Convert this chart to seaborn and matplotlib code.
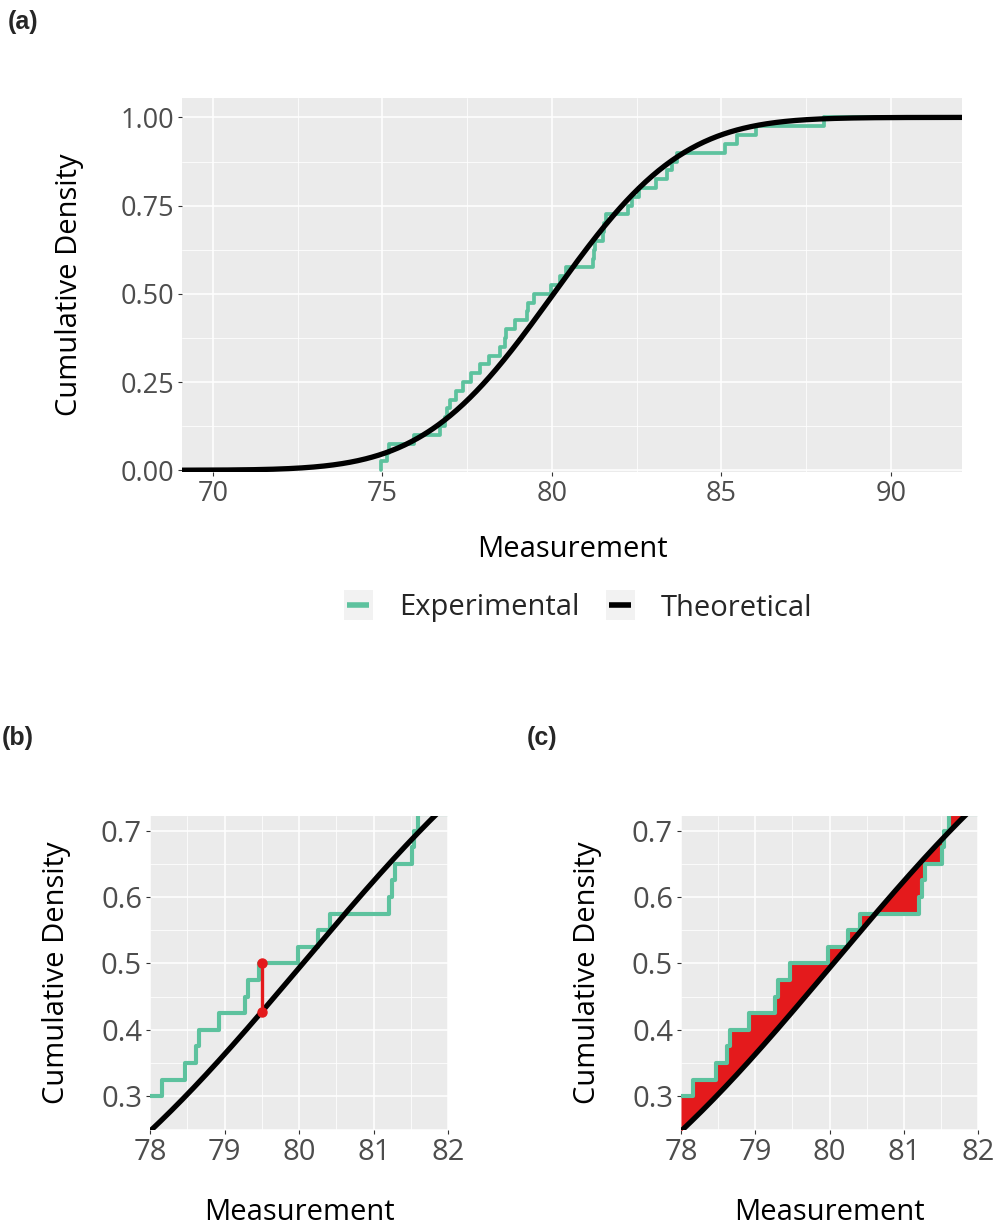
import math
import numpy as np
import matplotlib
matplotlib.use("Agg")
import matplotlib.pyplot as plt
from matplotlib.lines import Line2D
from matplotlib.patches import Rectangle
from matplotlib.legend_handler import HandlerLine2D
import seaborn as sns

# ---------------- data ----------------
measurements = [
    74.96, 75.15, 75.20, 75.92, 76.71, 76.85, 76.92, 77.00, 77.18, 77.37,
    77.61, 77.87, 78.16, 78.47, 78.62, 78.66, 78.92, 79.27, 79.31, 79.46,
    79.98, 80.25, 80.41, 81.20, 81.24, 81.28, 81.51, 81.54, 81.60, 82.26,
    82.36, 82.56, 83.08, 83.39, 83.54, 83.69, 85.11, 85.46, 86.03, 88.04,
]
theo_mean = 80.05
theo_sd = 3.0
ks_x = 79.5                       # location of the largest gap shown in (b)
series_labels = ["Experimental", "Theoretical"]
xticks_a = [70, 75, 80, 85, 90]
yticks_a = [0.0, 0.25, 0.5, 0.75, 1.0]
yticklabels_a = ["0.00", "0.25", "0.50", "0.75", "1.00"]
xticks_zoom = [78, 79, 80, 81, 82]
yticks_zoom = [0.3, 0.4, 0.5, 0.6, 0.7]
panel_tags = ["(a)", "(b)", "(c)"]

# ---------------- style ----------------
GREEN = "#5DC29E"
RED = "#E41A1C"
sns.set_theme(style="darkgrid", rc={
    "axes.facecolor": "#EBEBEB",
    "grid.color": "white",
    "axes.edgecolor": "none",
    "xtick.color": "#333333",
    "ytick.color": "#333333",
    "xtick.labelcolor": "#4D4D4D",
    "ytick.labelcolor": "#4D4D4D",
    "axes.labelcolor": "black",
    "xtick.bottom": True,
    "ytick.left": True,
})
plt.rcParams["font.family"] = ["Open Sans", "DejaVu Sans"]

DPI = 100
W, H = 995, 1228
fig = plt.figure(figsize=(W / DPI, H / DPI), dpi=DPI)


def add_ax(left, top, right, bottom):
    return fig.add_axes([left / W, 1 - bottom / H, (right - left) / W, (bottom - top) / H])


def norm_cdf(x, mu, sd):
    erf = np.vectorize(math.erf)
    return 0.5 * (1 + erf((np.asarray(x) - mu) / (sd * math.sqrt(2))))


data = np.sort(np.asarray(measurements))
n = len(data)


def ecdf_at(x):
    return np.searchsorted(data, x, side="right") / n


def style_axes(ax, xlim, ylim, xticks, yticks, yticklabels, xminor, yminor, tick_fs):
    ax.set_xlim(*xlim)
    ax.set_ylim(*ylim)
    ax.set_xticks(xticks)
    ax.set_yticks(yticks)
    ax.set_yticklabels(yticklabels)
    ax.set_xticks(xminor, minor=True)
    ax.set_yticks(yminor, minor=True)
    ax.grid(which="major", color="white", linewidth=1.1)
    ax.grid(which="minor", color="white", linewidth=0.55)
    ax.tick_params(which="major", length=3.2, width=0.8, pad=2.5, labelsize=tick_fs)
    ax.tick_params(which="minor", length=0)
    for s in ax.spines.values():
        s.set_visible(False)


class KeyHandler(HandlerLine2D):
    def create_artists(self, legend, orig_handle, xdescent, ydescent, width, height, fontsize, trans):
        rect = Rectangle((-xdescent, -ydescent - 0.2 * height), width, height * 1.4,
                         facecolor="#F2F2F2", edgecolor="none", transform=trans)
        yc = -ydescent + height / 2
        line = Line2D([-xdescent + width * 0.12, -xdescent + width * 0.88], [yc, yc],
                      color=orig_handle.get_color(), linewidth=orig_handle.get_linewidth(),
                      solid_capstyle="butt", transform=trans)
        return [rect, line]


TITLE_FS = 21
GREEN_LW = 2.7
BLACK_LW = 3.8

# ---------------- panel (a) ----------------
ax_a = add_ax(182, 98, 962, 472)
xa = np.linspace(69.09, 92.1, 600)
sns.ecdfplot(x=data, ax=ax_a, color=GREEN, linewidth=GREEN_LW)
ax_a.plot([data[-1], 92.1], [1, 1], color=GREEN, linewidth=GREEN_LW)
sns.lineplot(x=xa, y=norm_cdf(xa, theo_mean, theo_sd), ax=ax_a, color="black",
             linewidth=BLACK_LW)
style_axes(ax_a, (69.09, 92.1), (-0.005, 1.055), xticks_a, yticks_a, yticklabels_a,
           [72.5, 77.5, 82.5, 87.5], [0.125, 0.375, 0.625, 0.875], 19.5)
ax_a.set_xlabel("Measurement", fontsize=TITLE_FS)
ax_a.set_ylabel("Cumulative Density", fontsize=TITLE_FS)
ax_a.xaxis.set_label_coords(0.5, (472 - 550) / 374)
ax_a.xaxis.label.set_va("center")
ax_a.yaxis.set_label_coords((70 - 182) / 780, 0.5)
ax_a.yaxis.label.set_va("center")

handles = [Line2D([], [], color=GREEN, linewidth=4.0), Line2D([], [], color="black", linewidth=4.0)]
ax_a.legend(handles, series_labels, loc="center", bbox_to_anchor=(578 / W, 1 - 608 / H),
            bbox_transform=fig.transFigure, ncol=2, frameon=False, fontsize=TITLE_FS,
            handlelength=1.0, handleheight=0.75, handletextpad=0.9, columnspacing=0.9,
            handler_map={Line2D: KeyHandler()})

# ---------------- panels (b) and (c) ----------------
xz = np.linspace(78, 82, 2000)
cdf_z = norm_cdf(xz, theo_mean, theo_sd)
panels = [(150, 448.3), (681, 978.3)]
axes_z = []
for i, (l, r) in enumerate(panels):
    ax = add_ax(l, 816, r, 1130)
    axes_z.append(ax)
    if i == 1:
        ax.fill_between(xz, ecdf_at(xz), cdf_z, color=RED, linewidth=0)
    sns.ecdfplot(x=data, ax=ax, color=GREEN, linewidth=GREEN_LW * 1.1)
    sns.lineplot(x=xz, y=cdf_z, ax=ax, color="black", linewidth=BLACK_LW)
    if i == 0:
        y_lo = float(norm_cdf(ks_x, theo_mean, theo_sd))
        y_hi = float(ecdf_at(ks_x))
        ax.plot([ks_x, ks_x], [y_lo, y_hi], color=RED, linewidth=2.4, zorder=5)
        ax.plot([ks_x, ks_x], [y_lo, y_hi], "o", color=RED, markersize=6.5, zorder=6)
    style_axes(ax, (78, 82), (0.249, 0.722), xticks_zoom, yticks_zoom,
               [f"{v:.1f}" for v in yticks_zoom],
               [78.5, 79.5, 80.5, 81.5], [0.25, 0.35, 0.45, 0.55, 0.65], 21)
    ax.set_xlabel("Measurement", fontsize=TITLE_FS)
    ax.set_ylabel("Cumulative Density", fontsize=TITLE_FS)
    wpx = r - l
    ax.xaxis.set_label_coords(0.5, (1130 - 1213) / 314)
    ax.xaxis.label.set_va("center")
    ax.yaxis.set_label_coords(((57 if i == 0 else 588) - l) / wpx, 0.5)
    ax.yaxis.label.set_va("center")

# ---------------- panel tags ----------------
tag_pos = [(8, 22), (2, 738), (527, 738)]
for tag, (x, y) in zip(panel_tags, tag_pos):
    fig.text(x / W, 1 - y / H, tag, fontsize=18, fontweight="bold",
             family=["Liberation Sans Narrow", "Liberation Sans", "DejaVu Sans"],
             ha="left", va="center")

fig.savefig("out.png", dpi=DPI)
